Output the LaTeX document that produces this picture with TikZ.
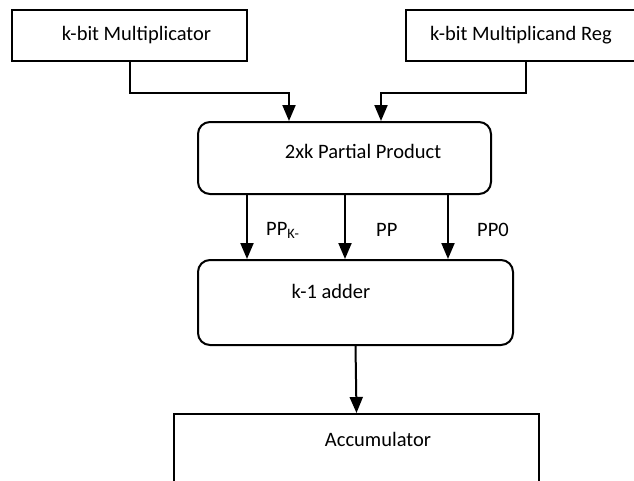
\documentclass[tikz,border=0pt]{standalone}
\usepackage{fontspec}
\setmainfont{Carlito}
\usetikzlibrary{arrows.meta}

\begin{document}
\begin{tikzpicture}[x=1pt,y=-1pt,
  reg/.style={draw,line width=2pt,inner sep=0pt},
  blk/.style={draw,line width=2pt,rounded corners=12pt,inner sep=0pt},
  txt/.style={inner sep=0pt,font=\fontsize{20.5}{24}\selectfont},
  wire/.style={line width=2pt,-{Triangle[width=13pt,length=16pt]}}]

  \useasboundingbox (0,0) rectangle (634,480);

  %% registers
  \node[reg,minimum width=235pt,minimum height=51pt] (mlr) at (129.5,35.5) {}; %% multiplicator
  \node[reg,minimum width=240pt,minimum height=51pt] (mcd) at (526,35.5) {};   %% multiplicand
  \node[txt] (mlrtxt) at (136.5,35.5) {k-bit Multiplicator};
  \node[txt] (mcdtxt) at (521,35.5) {k-bit Multiplicand Reg};

  %% blocks
  \node[blk,minimum width=293pt,minimum height=72pt] (pp) at (344.5,158) {};   %% partial product
  \node[blk,minimum width=315pt,minimum height=85pt] (add) at (355.5,302.5) {}; %% adder
  \node[reg,minimum width=365pt,minimum height=90pt] (acc) at (356.5,459) {};   %% accumulator
  \node[txt] (pptxt) at (363,151) {2xk Partial Product};
  \node[txt] (addtxt) at (331,291) {k-1 adder};
  \node[txt] (acctxt) at (378,439) {Accumulator};

  %% register to block
  \draw[wire] (mlr.south) |- (289,93) -- (pp.north -| 289,0);
  \draw[wire] (mcd.south) |- (381,93) -- (pp.north -| 381,0);

  %% block to block
  \draw[wire] (pp.south -| 247,0) -- (add.north -| 247,0);
  \draw[wire] (pp.south -| 345,0) -- (add.north -| 345,0);
  \draw[wire] (pp.south -| 448,0) -- (add.north -| 448,0);
  \draw[wire] (add.south) -- (acc.north);

  %% labels
  \node[txt,anchor=west] (ppk) at (266,230) {PP\textsubscript{K-}};
  \node[txt,anchor=west] (ppm) at (376,230) {PP};
  \node[txt,anchor=west] (ppz) at (477,230) {PP0};

\end{tikzpicture}
\end{document}
